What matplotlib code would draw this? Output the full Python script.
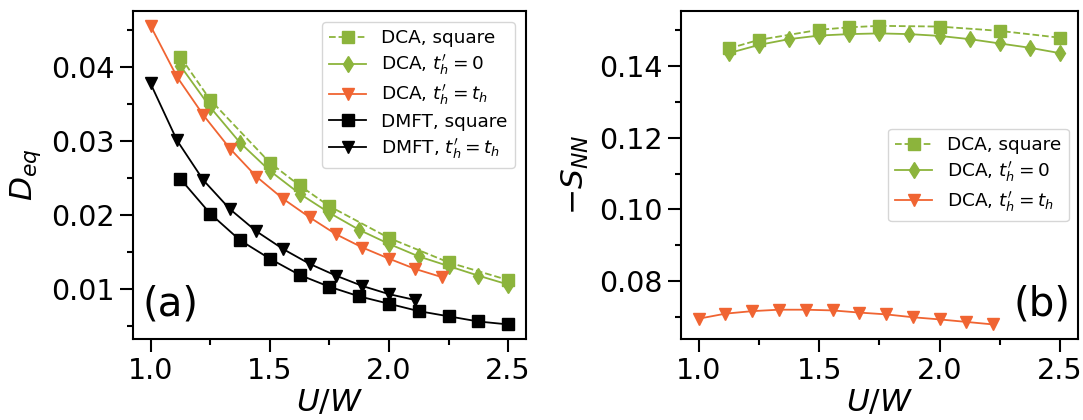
import matplotlib
matplotlib.use('Agg')
import matplotlib.pyplot as plt

# U/W grids
x_sq = [1.125, 1.25, 1.375, 1.5, 1.625, 1.75, 1.875, 2.0, 2.125, 2.25, 2.375, 2.5]
x_sq_dca = [1.125, 1.25, 1.5, 1.625, 1.75, 2.0, 2.25, 2.5]
x_tri = [1.0, 1.111, 1.222, 1.333, 1.444, 1.556, 1.667, 1.778, 1.889, 2.0, 2.111, 2.222]
x_tri_dmft = x_tri[:11]

# panel (a): D_eq
deq_dca_square = [0.0414, 0.0356, 0.0271, 0.0240, 0.0212, 0.0169, 0.0136, 0.0112]
deq_dca_t0 = [0.0402, 0.0346, 0.0298, 0.0260, 0.0229, 0.0203, 0.0180, 0.0161,
              0.0144, 0.0131, 0.0118, 0.0106]
deq_dca_tt = [0.0456, 0.0387, 0.0335, 0.0290, 0.0252, 0.0222, 0.0197, 0.0174,
              0.0156, 0.0141, 0.0127, 0.0116]
deq_dmft_square = [0.0249, 0.0202, 0.0166, 0.0141, 0.0119, 0.0103, 0.0090, 0.0080,
                   0.0070, 0.0063, 0.0056, 0.0052]
deq_dmft_tt = [0.0378, 0.0301, 0.0247, 0.0208, 0.0178, 0.0154, 0.0134, 0.0118,
               0.0104, 0.0093, 0.0085]

# panel (b): -S_NN
snn_dca_square = [0.1448, 0.1472, 0.1500, 0.1507, 0.1511, 0.1509, 0.1497, 0.1478]
snn_dca_t0 = [0.1435, 0.1458, 0.1474, 0.1484, 0.1488, 0.1490, 0.1488, 0.1483,
              0.1474, 0.1462, 0.1450, 0.1435]
snn_dca_tt = [0.0696, 0.0710, 0.0717, 0.0721, 0.0721, 0.0719, 0.0713, 0.0708,
              0.0700, 0.0694, 0.0687, 0.0680]

green = '#8cb43c'
orange = '#f06432'

plt.rcParams['font.size'] = 21
plt.rcParams['axes.linewidth'] = 1.5

fig = plt.figure(figsize=(10.83, 4.2), dpi=100)
ax1 = fig.add_axes([0.1225, 0.192, 0.3632, 0.782])
ax2 = fig.add_axes([0.6285, 0.192, 0.3669, 0.782])

lw = 1.3
ms = 8.5
ax1.plot(x_sq_dca, deq_dca_square, '--s', color=green, lw=lw, ms=ms, label='DCA, square')
ax1.plot(x_sq, deq_dca_t0, '-d', color=green, lw=lw, ms=ms, label="DCA, $t_h'=0$")
ax1.plot(x_tri, deq_dca_tt, '-v', color=orange, lw=lw, ms=ms, label="DCA, $t_h'=t_h$")
ax1.plot(x_sq, deq_dmft_square, '-s', color='black', lw=lw, ms=ms, label='DMFT, square')
ax1.plot(x_tri_dmft, deq_dmft_tt, '-v', color='black', lw=lw, ms=ms, label="DMFT, $t_h'=t_h$")

ax2.plot(x_sq_dca, snn_dca_square, '--s', color=green, lw=lw, ms=ms, label='DCA, square')
ax2.plot(x_sq, snn_dca_t0, '-d', color=green, lw=lw, ms=ms, label="DCA, $t_h'=0$")
ax2.plot(x_tri, snn_dca_tt, '-v', color=orange, lw=lw, ms=ms, label="DCA, $t_h'=t_h$")

ax1.set_yticks([0.01, 0.02, 0.03, 0.04])
ax1.set_yticks([0.005, 0.015, 0.025, 0.035, 0.045], minor=True)
ax2.set_yticks([0.08, 0.10, 0.12, 0.14])
ax2.set_yticks([0.07, 0.09, 0.11, 0.13, 0.15], minor=True)

for ax in (ax1, ax2):
    ax.set_xticks([1.0, 1.5, 2.0, 2.5])
    ax.set_xticks([1.25, 1.75, 2.25], minor=True)
    ax.tick_params(which='major', length=9.5, width=1.5, labelsize=20.5)
    ax.tick_params(which='minor', length=4.5, width=1.5)
    ax.set_xlabel('$U/W$', fontsize=22.5, labelpad=2)

ax1.set_ylabel('$D_{eq}$', fontsize=22.5, labelpad=6)
ax2.set_ylabel('$-S_{NN}$', fontsize=22.5, labelpad=6)

ax1.legend(loc='upper right', fontsize=13.3, labelspacing=0.3, borderaxespad=0.6)
ax2.legend(loc='center right', fontsize=13.3, labelspacing=0.3, borderaxespad=0.5)

ax1.text(0.025, 0.045, '(a)', transform=ax1.transAxes, fontsize=29, ha='left', va='bottom')
ax2.text(0.98, 0.045, '(b)', transform=ax2.transAxes, fontsize=29, ha='right', va='bottom')

fig.savefig('out.png', dpi=100)
